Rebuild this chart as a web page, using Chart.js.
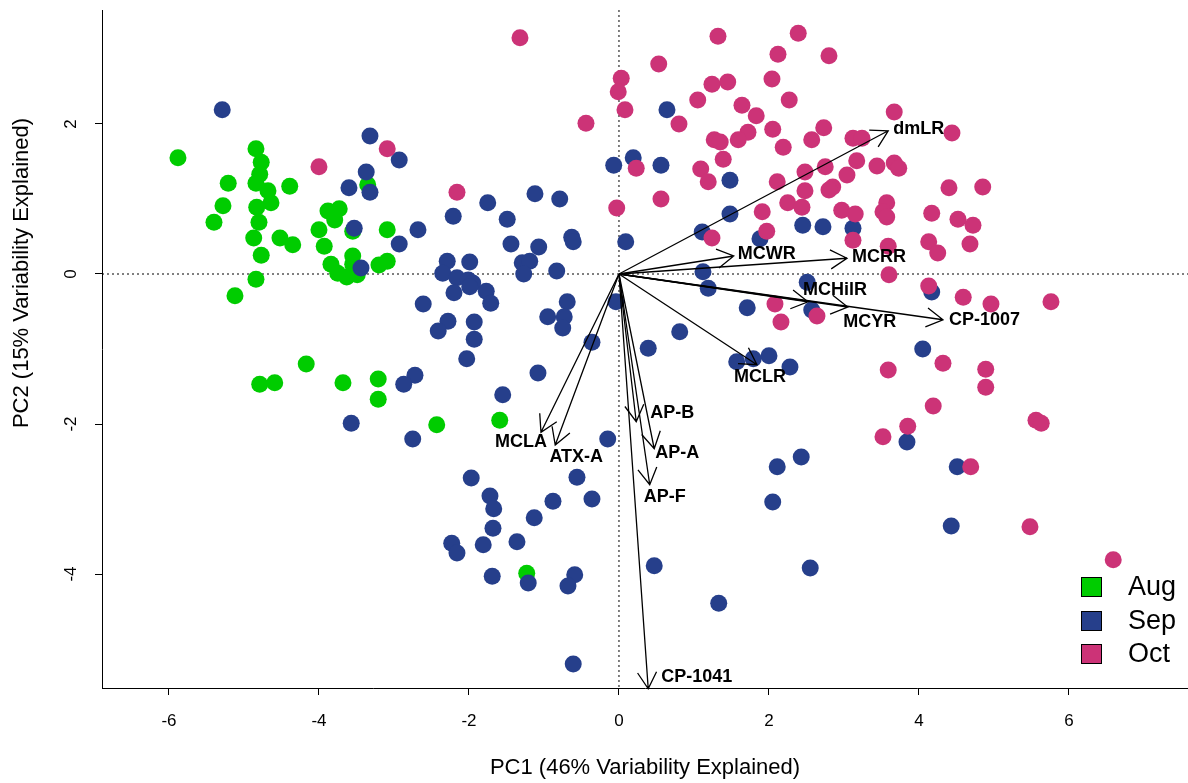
<!DOCTYPE html>
<html>
<head>
<meta charset="utf-8">
<script src="https://cdn.jsdelivr.net/npm/chart.js@4.4.1/dist/chart.umd.min.js"></script>
<style>
  body { margin: 0; background: #fff; }
  #wrap { width: 1188px; height: 783px; }
</style>
</head>
<body>
<div id="wrap"><canvas id="pca" width="1188" height="783"></canvas></div>
<script>
// scores (PC1, PC2)
const augPC1 = [-5.88,-4.84,-4.77,-4.79,-4.84,-4.68,-4.64,-4.83,-4.80,-4.87,-4.77,-4.84,-5.21,-5.28,-5.40,-4.39,-4.52,-4.35,-4.00,-3.93,-3.88,-3.73,-3.79,-3.84,-3.75,-3.63,-3.55,-3.55,-3.49,-3.35,-3.20,-3.09,-3.09,-3.55,-5.12,-4.17,-4.79,-4.59,-3.68,-3.21,-3.21,-2.43,-1.59,-1.23];
const augPC2 = [1.55,1.67,1.49,1.33,1.21,1.11,0.95,0.89,0.69,0.48,0.25,-0.07,1.21,0.91,0.69,1.17,0.48,0.39,0.59,0.37,0.84,0.87,0.72,0.13,0.01,-0.04,0.24,0.13,-0.01,1.19,0.12,0.17,0.59,0.57,-0.29,-1.20,-1.47,-1.45,-1.45,-1.40,-1.67,-2.01,-1.95,-3.99];

const sepPC1 = [-5.29,-3.32,-2.93,-3.37,-3.60,-3.32,-3.53,-3.44,-2.93,-2.68,-1.75,-1.12,-0.79,-2.21,-1.49,-1.44,-1.07,-0.63,-0.61,-0.07,0.19,0.09,
  -2.29,-1.99,-2.35,-2.16,-2.01,-1.95,-1.99,-1.29,-1.19,-1.27,-0.83,-2.20,-1.77,-1.71,-2.61,-0.69,-0.95,-0.73,-0.75,-2.28,-2.41,-1.93,-1.93,-0.36,-0.04,
  -2.03,-1.08,-2.72,-2.87,-1.55,-2.75,-0.15,-3.57,-1.97,-0.56,-1.72,-1.67,-0.88,-0.36,-1.13,-1.68,-2.23,-2.16,-1.81,-1.36,-1.69,-1.21,-0.59,-0.68,-0.61,0.47,
  0.64,0.56,1.48,1.48,1.11,1.88,2.45,2.72,3.12,1.12,1.19,1.71,0.81,0.39,2.51,2.57,1.57,1.79,2.00,2.28,3.84,4.05,4.17,4.51,4.43,2.43,2.11,2.05,2.55,1.33];
const sepPC2 = [2.19,1.84,1.52,1.36,1.15,1.09,0.61,0.08,0.40,0.59,0.95,1.07,1.00,0.77,0.73,0.40,0.36,0.49,0.43,1.45,1.55,0.43,
  0.17,0.16,0.01,-0.05,-0.08,-0.12,-0.17,0.15,0.17,0.00,0.04,-0.25,-0.23,-0.39,-0.40,-0.37,-0.57,-0.57,-0.72,-0.63,-0.76,-0.64,-0.87,-0.91,-0.37,
  -1.13,-1.32,-1.35,-1.47,-1.61,-2.20,-2.20,-1.99,-2.72,-2.71,-2.96,-3.13,-3.03,-3.00,-3.25,-3.39,-3.59,-3.72,-3.61,-3.57,-4.03,-4.12,-4.01,-4.16,-5.20,-3.89,
  2.19,1.45,1.25,0.80,0.56,0.47,0.65,0.63,0.61,0.03,-0.19,-0.45,-0.77,-0.99,-0.11,-0.48,-1.17,-1.13,-1.09,-1.24,-2.24,-1.00,-0.24,-2.57,-3.36,-2.44,-2.57,-3.04,-3.92,-4.39];

const octPC1 = [-4.00,-3.09,-2.16,-1.32,-0.44,0.03,-0.01,0.08,0.23,-0.03,0.53,1.32,2.39,2.80,2.12,1.24,1.45,2.04,1.05,2.27,1.64,1.83,0.80,3.67,
  2.05,1.72,1.59,1.27,1.35,2.73,2.57,2.19,3.12,3.24,1.39,1.09,1.19,3.17,3.44,3.67,3.73,2.48,2.75,3.04,2.11,2.48,2.85,2.80,0.56,2.25,2.44,2.97,3.15,
  3.57,3.52,3.57,1.91,1.97,1.24,3.12,3.59,4.44,4.40,4.85,4.17,4.52,4.72,4.13,4.25,4.68,3.60,4.13,4.59,4.96,5.76,2.08,2.16,2.64,3.59,4.32,4.89,4.89,
  4.19,3.85,3.52,5.56,5.63,4.69,5.48,6.59];
const octPC2 = [1.43,1.67,1.09,3.15,2.01,2.61,2.43,2.19,1.41,0.88,2.80,3.17,3.21,2.91,2.93,2.53,2.56,2.60,2.32,2.32,2.25,2.11,2.00,2.16,
  1.93,1.89,1.79,1.79,1.76,1.95,1.79,1.69,1.81,1.81,1.53,1.40,1.23,1.51,1.44,1.48,1.41,1.36,1.43,1.32,1.23,1.11,1.16,1.12,1.00,0.95,0.89,0.85,0.80,
  0.95,0.83,0.76,0.83,0.57,0.48,0.45,0.37,1.88,1.15,1.16,0.81,0.73,0.65,0.43,0.28,0.40,-0.01,-0.16,-0.31,-0.40,-0.37,-0.40,-0.64,-0.56,-1.28,-1.19,-1.27,-1.51,
  -1.76,-2.03,-2.17,-1.95,-1.99,-2.57,-3.37,-3.81];

// variable loadings (arrow tips, same units as the scores)
const loadNames = ['dmLR','MCWR','MCRR','MCHilR','MCYR','CP-1007','MCLR','AP-B','AP-A','AP-F','CP-1041','MCLA','ATX-A'];
const loadPC1 = [3.59,1.53,3.04,2.52,3.05,4.32,1.84,0.23,0.47,0.41,0.39,-1.04,-0.85];
const loadPC2 = [1.91,0.24,0.21,-0.37,-0.44,-0.61,-1.21,-1.97,-2.33,-2.81,-5.53,-2.11,-2.28];

const xTickValues = [-6, -4, -2, 0, 2, 4, 6];
const yTickValues = [-4, -2, 0, 2];

const FONT = '"Liberation Sans", Arial, Helvetica, sans-serif';

// where each arrow label sits relative to its tip (pixels)
const labelPlace = {
  'dmLR':   [5, -2, 'left'],
  'MCWR':   [4, -2, 'left'],
  'MCRR':   [5, -1, 'left'],
  'MCHilR': [27, -12, 'center'],
  'MCYR':   [22, 15, 'center'],
  'CP-1007':[6, 0, 'left'],
  'MCLR':   [3, 12, 'center'],
  'AP-B':   [14, -9, 'left'],
  'AP-A':   [1, 4, 'left'],
  'AP-F':   [-6, 12, 'left'],
  'CP-1041':[13, -12, 'left'],
  'MCLA':   [-20, 10, 'center'],
  'ATX-A':  [21, 12, 'center']
};

function toPoints(xs, ys) {
  return xs.map((v, i) => ({ x: v, y: ys[i] }));
}

const biplot = {
  id: 'biplot',
  beforeDatasetsDraw(chart) {
    const { ctx, chartArea: a, scales: { x, y } } = chart;
    const x0 = x.getPixelForValue(0);
    const y0 = y.getPixelForValue(0);
    ctx.save();
    ctx.strokeStyle = '#000';
    ctx.lineWidth = 1;
    ctx.setLineDash([2, 3]);
    ctx.beginPath();
    ctx.moveTo(a.left, y0); ctx.lineTo(a.right, y0);
    ctx.moveTo(x0, a.top); ctx.lineTo(x0, a.bottom);
    ctx.stroke();
    ctx.restore();
  },
  afterDatasetsDraw(chart) {
    const { ctx, scales: { x, y } } = chart;
    const x0 = x.getPixelForValue(0);
    const y0 = y.getPixelForValue(0);
    ctx.save();
    ctx.strokeStyle = '#000';
    ctx.lineWidth = 1.3;
    const head = 19, ang = Math.PI / 6;
    loadNames.forEach((name, i) => {
      const tx = x.getPixelForValue(loadPC1[i]);
      const ty = y.getPixelForValue(loadPC2[i]);
      const t = Math.atan2(ty - y0, tx - x0);
      ctx.beginPath();
      ctx.moveTo(x0, y0); ctx.lineTo(tx, ty);
      ctx.moveTo(tx - head * Math.cos(t - ang), ty - head * Math.sin(t - ang));
      ctx.lineTo(tx, ty);
      ctx.lineTo(tx - head * Math.cos(t + ang), ty - head * Math.sin(t + ang));
      ctx.stroke();
    });
    ctx.fillStyle = '#000';
    ctx.font = 'bold 18px ' + FONT;
    ctx.textBaseline = 'middle';
    loadNames.forEach((name, i) => {
      const p = labelPlace[name];
      ctx.textAlign = p[2];
      ctx.fillText(name, x.getPixelForValue(loadPC1[i]) + p[0], y.getPixelForValue(loadPC2[i]) + p[1]);
    });
    ctx.restore();
  },
  afterDraw(chart) {
    const { ctx, scales: { y } } = chart;
    ctx.save();
    ctx.fillStyle = '#000';
    // rotated y tick labels
    ctx.font = '17px ' + FONT;
    ctx.textAlign = 'center';
    ctx.textBaseline = 'middle';
    yTickValues.forEach(v => {
      ctx.save();
      ctx.translate(71, y.getPixelForValue(v));
      ctx.rotate(-Math.PI / 2);
      ctx.fillText(String(v), 0, 0);
      ctx.restore();
    });
    // y axis title
    ctx.font = '22px ' + FONT;
    ctx.save();
    ctx.translate(22, 273);
    ctx.rotate(-Math.PI / 2);
    ctx.fillText('PC2 (15% Variability Explained)', 0, 0);
    ctx.restore();
    // legend
    ctx.font = '27px ' + FONT;
    ctx.textAlign = 'left';
    const rows = [587, 621, 654];
    chart.data.datasets.forEach((ds, i) => {
      ctx.fillStyle = ds.backgroundColor;
      ctx.fillRect(1081, rows[i] - 10, 21, 20);
      ctx.strokeStyle = '#000';
      ctx.lineWidth = 1;
      ctx.strokeRect(1081.5, rows[i] - 9.5, 20, 19);
      ctx.fillStyle = '#000';
      ctx.fillText(ds.label, 1128, rows[i] + 1);
    });
    ctx.restore();
  }
};

const ctx = document.getElementById('pca').getContext('2d');
new Chart(ctx, {
  type: 'scatter',
  data: {
    datasets: [
      { label: 'Aug', data: toPoints(augPC1, augPC2), backgroundColor: '#00CC00', order: 3 },
      { label: 'Sep', data: toPoints(sepPC1, sepPC2), backgroundColor: '#263F8B', order: 2 },
      { label: 'Oct', data: toPoints(octPC1, octPC2), backgroundColor: '#CC3377', order: 1 }
    ]
  },
  options: {
    responsive: false,
    animation: false,
    layout: { autoPadding: false, padding: { top: 10, left: 0, right: 0, bottom: 0 } },
    elements: { point: { radius: 8.5, hoverRadius: 8.5, borderWidth: 0 } },
    plugins: { legend: { display: false }, tooltip: { enabled: false } },
    scales: {
      x: {
        type: 'linear',
        min: -6.893,
        max: 7.587,
        afterBuildTicks: s => { s.ticks = xTickValues.map(v => ({ value: v })); },
        afterFit: s => { s.height = 95; },
        grid: { drawOnChartArea: false, color: '#000', tickLength: 7 },
        border: { display: true, color: '#000', width: 1 },
        ticks: { color: '#000', padding: 16, font: { size: 17, family: FONT }, callback: v => String(v) },
        title: { display: true, text: 'PC1 (46% Variability Explained)', color: '#000',
                 font: { size: 22, family: FONT }, padding: { top: 0, bottom: 2 } }
      },
      y: {
        type: 'linear',
        min: -5.52,
        max: 3.52,
        afterBuildTicks: s => { s.ticks = yTickValues.map(v => ({ value: v })); },
        afterFit: s => { s.width = 102; },
        grid: { drawOnChartArea: false, color: '#000', tickLength: 7 },
        border: { display: true, color: '#000', width: 1 },
        ticks: { display: false }
      }
    }
  },
  plugins: [biplot]
});
</script>
</body>
</html>
